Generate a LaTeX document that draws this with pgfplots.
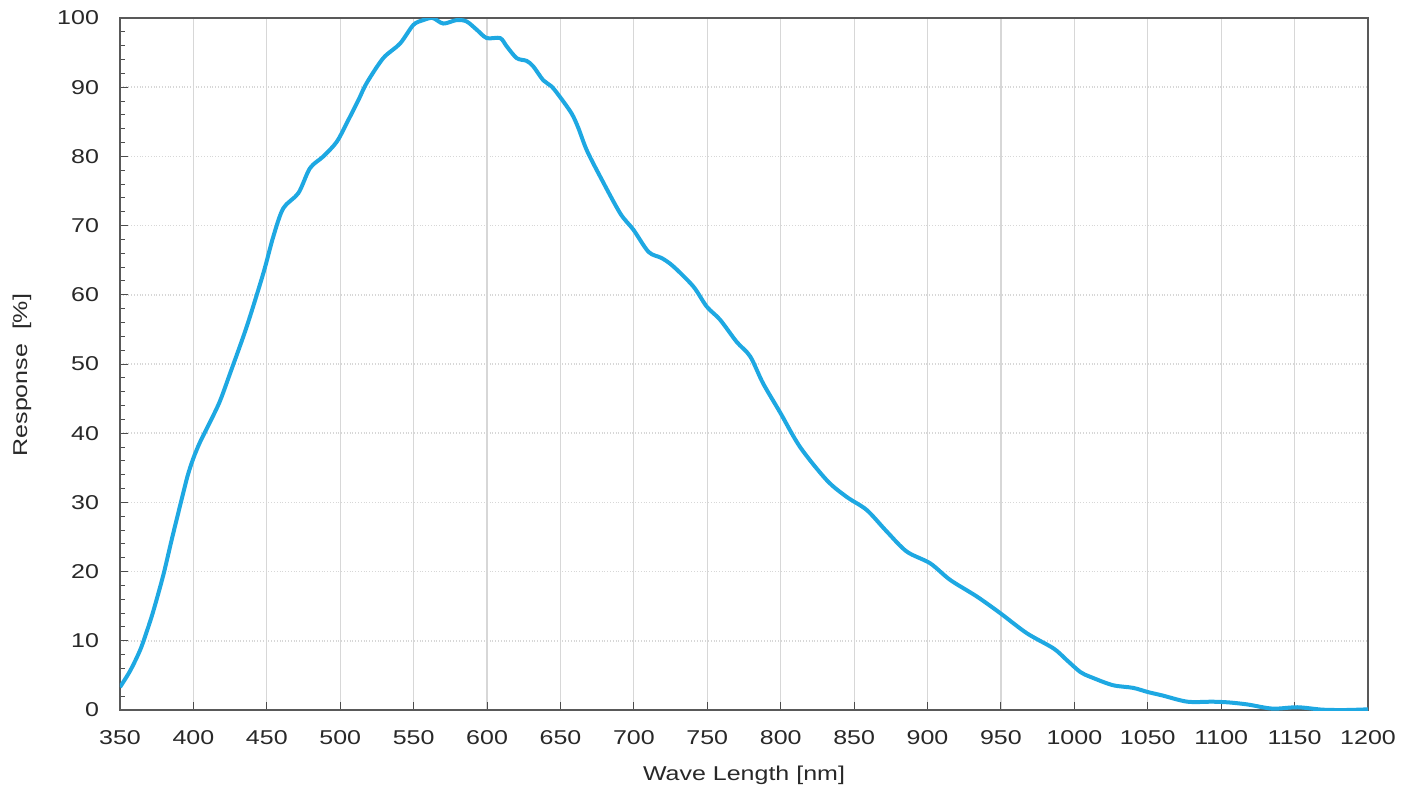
\documentclass[border=0pt]{standalone}
\usepackage{pgfplots}
\pgfplotsset{compat=1.18}
\usetikzlibrary{calc}
\usepackage{fontspec}
\setmainfont[FakeStretch=1.25]{Liberation Sans}
\definecolor{curve}{RGB}{30,168,226}
\definecolor{gridc}{RGB}{215,215,215}
\definecolor{txt}{RGB}{40,40,40}
\begin{document}
\begin{tikzpicture}
\begin{axis}[
  scale only axis,
  width=624pt, height=346pt,
  xmin=350, xmax=1200, ymin=0, ymax=100,
  xtick={350,400,...,1200},
  ytick={0,10,...,100},
  minor y tick num=4,
  tick align=inside,
  xtick pos=bottom, ytick pos=left,
  major tick length=4pt, minor tick length=2.5pt,
  tick style={black!70, line width=0.5pt},
  grid=major,
  x grid style={gridc, line width=0.6pt},
  y grid style={gridc, densely dotted, line width=0.8pt},
  axis line style={black!65, line width=1pt},
  /pgf/number format/assume math mode=true,
  /pgf/number format/1000 sep={},
  tick label style={font=\fontsize{10}{12}\selectfont, text=txt},
  xticklabel style={yshift=-6.5pt},
  yticklabel style={xshift=-7pt},
  xlabel={Wave Length [nm]},
  ylabel={Response\ \ [\%]},
  label style={font=\fontsize{10}{12}\selectfont, text=txt},
  xlabel style={at={(axis description cs:0.5,0)}, anchor=base, yshift=-35pt},
  ylabel style={at={(axis description cs:-0.0745,0.484)}, anchor=base},
]
\addplot[curve, line width=2pt, smooth, tension=0.5] coordinates {
(350,3.3) (357,5.7) (363.6,8.6) (368,11.2) (372.7,14.3) (379.5,19.5)
(385.2,24.6) (391,29.6) (396,33.8) (400,36.4) (404.5,38.7) (411.3,41.6) (418,44.6)
(424.9,48.6) (436.3,55.4) (447.6,63.1) (454.4,68.4) (461.2,72.5) (471.5,74.7)
(479.4,78.3) (488.5,80) (497.6,82.1) (504.4,84.8) (512.3,88.1) (518,90.6)
(529.3,94.2) (540.7,96.3) (549.8,99) (556.6,99.7) (563,100) (570.2,99.2)
(579.3,99.7) (586.1,99.5) (593,98.3) (599.8,97.1) (608.9,97.1) (613.4,95.9)
(620.2,94.2) (627,93.8) (631.5,93) (638.3,91) (644,90.1) (650,88.5)
(657.6,86.2) (662,84.2) (667.9,80.9) (677,77.1) (690.6,71.8) (699.7,69.4)
(710,66.2) (719,65.3) (726.9,64.1) (740.5,61.2) (749.6,58.3) (758.7,56.4)
(770,53.2) (779.2,51.1) (788,47.2) (799.6,43) (813.2,38) (831.4,33.2)
(844.9,30.8) (858.6,28.9) (872.2,25.8) (885.8,22.9) (901.8,21.2) (915.4,18.8)
(933.6,16.4) (949.5,14) (967.6,11.1) (985.8,8.9) (994.9,7.2) (1004,5.5)
(1010.8,4.8) (1026,3.6) (1040,3.2) (1050,2.6) (1060,2.1) (1077,1.2)
(1094,1.2) (1105,1.1) (1118,0.8) (1135,0.2) (1152,0.4) (1169,0.05)
(1185,0.0) (1200,0.1)
};
\end{axis}
\pgfresetboundingbox
\path[use as bounding box] ($(current axis.south west)+(-60pt,-47.5pt)$) rectangle ($(current axis.north east)+(22.5pt,9pt)$);
\end{tikzpicture}
\end{document}
